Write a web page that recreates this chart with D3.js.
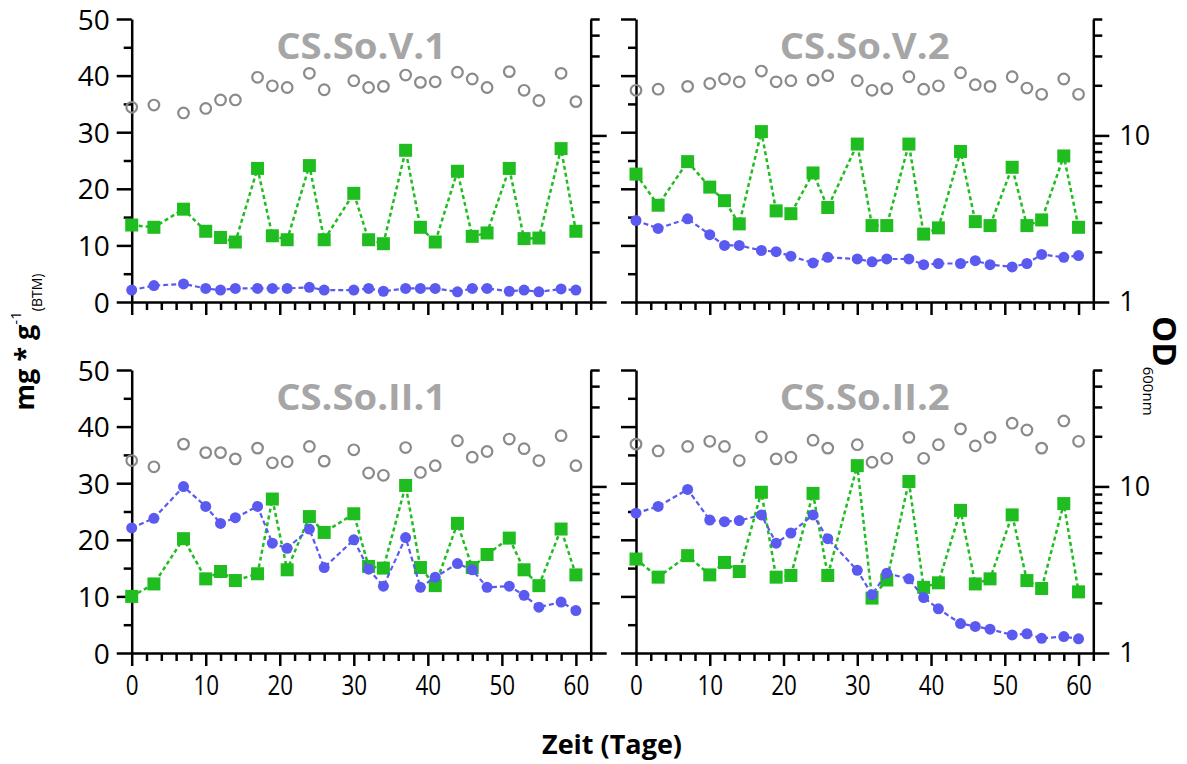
<!DOCTYPE html>
<html><head><meta charset="utf-8">
<script src="https://cdn.jsdelivr.net/npm/d3@7/dist/d3.min.js"></script>
<style>body{margin:0;background:#fff}</style>
</head><body>
<svg id="c" width="1187" height="764"></svg>
<script>
// ---------- data ----------
const days = [0,3,7,10,12,14,17,19,21,24,26,30,32,34,37,39,41,44,46,48,51,53,55,58,60];
const panelTitles = ["CS.So.V.1","CS.So.V.2","CS.So.II.1","CS.So.II.2"];
const leftTicks = [0,10,20,30,40,50];
const rightTicks = [1,10];
const xTicks = [0,10,20,30,40,50,60];
const yTitle = "mg * g";
const xTitle = "Zeit (Tage)";

const grayV1  = [34.4,34.8,33.4,34.2,35.7,35.7,39.7,38.2,37.9,40.4,37.5,39.1,37.9,38.1,40.1,38.8,38.9,40.6,39.4,37.9,40.7,37.4,35.6,40.4,35.4];
const greenV1 = [13.6,13.2,16.4,12.5,11.4,10.6,23.6,11.7,11.0,24.1,11.0,19.2,11.0,10.3,26.8,13.2,10.6,23.1,11.6,12.2,23.6,11.2,11.3,27.1,12.5];
const blueV1  = [2.1,2.9,3.2,2.4,2.1,2.4,2.4,2.4,2.4,2.6,2.1,2.1,2.4,1.9,2.4,2.4,2.4,1.8,2.4,2.4,1.9,2.1,1.8,2.3,2.1];

const grayV2  = [37.4,37.6,38.1,38.6,39.4,38.9,40.8,38.9,39.1,39.2,40.0,39.1,37.4,37.7,39.8,37.6,38.2,40.5,38.4,38.1,39.8,37.8,36.7,39.4,36.7];
const greenV2 = [22.6,17.1,24.8,20.3,17.9,13.8,30.1,16.1,15.6,22.8,16.7,27.9,13.5,13.5,27.9,12.0,13.1,26.6,14.2,13.5,23.8,13.5,14.5,25.8,13.2];
const blueV2  = [14.4,13.0,14.7,11.9,10.0,10.0,9.1,8.9,8.1,6.9,7.9,7.6,7.1,7.6,7.6,6.6,6.8,6.8,7.3,6.6,6.2,6.8,8.4,7.9,8.2];

const grayII1  = [34.0,32.9,36.9,35.4,35.4,34.3,36.2,33.6,33.8,36.5,33.9,35.9,31.8,31.4,36.3,31.9,33.1,37.5,34.6,35.6,37.8,36.1,34.0,38.4,33.1];
const greenII1 = [10.0,12.2,20.2,13.1,14.4,12.8,14.0,27.2,14.7,24.1,21.3,24.6,15.3,15.0,29.6,15.1,11.9,22.9,15.1,17.4,20.3,14.7,11.9,21.9,13.8];
const blueII1  = [22.1,23.8,29.4,25.9,22.9,23.9,25.9,19.4,18.5,21.9,15.1,20.0,14.8,11.8,20.4,11.6,13.4,15.8,14.7,11.6,11.8,10.2,8.1,9.0,7.5];

const grayII2  = [36.9,35.7,36.5,37.4,36.5,34.0,38.2,34.3,34.6,37.6,36.2,36.8,33.7,34.4,38.1,34.4,36.8,39.6,36.6,38.1,40.6,39.4,36.2,41.0,37.4];
const greenII2 = [16.6,13.4,17.2,13.8,16.0,14.4,28.4,13.4,13.7,28.2,13.7,33.1,9.7,12.9,30.3,11.6,12.4,25.2,12.2,13.1,24.4,12.8,11.4,26.4,10.8];
const blueII2  = [24.7,25.9,28.9,23.5,23.2,23.4,24.4,19.4,21.2,24.4,20.2,14.6,10.3,14.1,13.1,9.8,7.8,5.2,4.7,4.2,3.2,3.4,2.6,2.9,2.5];

// ---------- layout ----------
const FONT = "'Open Sans', 'DejaVu Sans', sans-serif";
const C_GREEN = "#1fbd1f", C_BLUE = "#5a5af0", C_GRAY = "#8a8a8a", C_TITLE = "#a6a6a6";
const panels = [
  {title: panelTitles[0], gray: grayV1,  green: greenV1,  blue: blueV1,  x0:131.7, x1:590.7,  y0:19,  y1:302, left:true,  bottom:false},
  {title: panelTitles[1], gray: grayV2,  green: greenV2,  blue: blueV2,  x0:636,   x1:1093.3, y0:19,  y1:302, left:false, bottom:false},
  {title: panelTitles[2], gray: grayII1, green: greenII1, blue: blueII1, x0:131.7, x1:590.7,  y0:370, y1:653, left:true,  bottom:true},
  {title: panelTitles[3], gray: grayII2, green: greenII2, blue: blueII2, x0:636,   x1:1093.3, y0:370, y1:653, left:false, bottom:true},
];

const svg = d3.select("#c");

function styleAxis(g, fs){
  g.selectAll("path.domain").attr("stroke","#000").attr("stroke-width",2.5);
  g.selectAll(".tick line").attr("stroke","#000").attr("stroke-width",2.5);
  g.selectAll("text").attr("fill","#000").style("font-family",FONT).style("font-size",fs+"px");
}

panels.forEach(p => {
  const x = d3.scaleLinear().domain([0,62]).range([p.x0,p.x1]);
  const y = d3.scaleLinear().domain([0,50]).range([p.y1,p.y0]);
  const yl = d3.scaleLog().domain([1,50]).range([p.y1,p.y0]);
  const g = svg.append("g");

  // left axis
  const gl = g.append("g").attr("transform",`translate(${p.x0},0)`);
  gl.call(d3.axisLeft(y).tickValues(leftTicks).tickSize(15).tickSizeOuter(0).tickPadding(7)
      .tickFormat(p.left ? d3.format("d") : ""));
  styleAxis(gl, 28);
  gl.selectAll("text").attr("dy","0.36em");
  const glm = g.append("g").attr("transform",`translate(${p.x0},0)`);
  glm.call(d3.axisLeft(y).tickValues([5,15,25,35,45]).tickSize(8).tickFormat(""));
  styleAxis(glm, 10); glm.select("path.domain").remove();

  // right log axis
  const gr = g.append("g").attr("transform",`translate(${p.x1},0)`);
  gr.call(d3.axisRight(yl).tickValues(rightTicks).tickSize(16).tickSizeOuter(0).tickPadding(10)
      .tickFormat(p.left ? "" : d3.format("d")));
  styleAxis(gr, 27);
  const grm = g.append("g").attr("transform",`translate(${p.x1},0)`);
  grm.call(d3.axisRight(yl).tickValues([2,3,4,5,6,7,8,9,20,30,40,50]).tickSize(9).tickFormat(""));
  styleAxis(grm, 10); grm.select("path.domain").remove();

  // bottom axis
  const gb = g.append("g").attr("transform",`translate(0,${p.y1})`);
  gb.call(d3.axisBottom(x).tickValues(xTicks).tickSize(13).tickSizeOuter(0).tickPadding(9)
      .tickFormat(p.bottom ? d3.format("d") : ""));
  styleAxis(gb, 28);
  gb.selectAll("text").attr("transform","scale(0.8,1)");
  const gbm = g.append("g").attr("transform",`translate(0,${p.y1})`);
  gbm.call(d3.axisBottom(x).tickValues(d3.range(2,63,2).filter(d => d%10)).tickSize(8).tickFormat(""));
  styleAxis(gbm, 10); gbm.select("path.domain").remove();

  // title
  g.append("text").attr("x",(p.x0+p.x1)/2).attr("y",p.y0+40).attr("text-anchor","middle")
    .attr("fill",C_TITLE).style("font-family",FONT).style("font-weight","bold").style("font-size","36px")
    .attr("textLength",170).attr("lengthAdjust","spacingAndGlyphs").text(p.title);

  // gray open circles
  g.append("g").selectAll("circle").data(p.gray).join("circle")
    .attr("cx",(d,i)=>x(days[i])).attr("cy",d=>y(d)).attr("r",5.3)
    .attr("fill","none").attr("stroke",C_GRAY).attr("stroke-width",2.2);

  // green line + squares
  const line = d3.line().x((d,i)=>x(days[i])).y(d=>y(d));
  g.append("path").datum(p.green).attr("d",line).attr("fill","none")
    .attr("stroke",C_GREEN).attr("stroke-width",2.5).attr("stroke-dasharray","4 3");
  g.append("g").selectAll("rect").data(p.green).join("rect")
    .attr("x",(d,i)=>x(days[i])-6.5).attr("y",d=>y(d)-6.5).attr("width",13).attr("height",13)
    .attr("fill",C_GREEN);

  // blue line + circles
  g.append("path").datum(p.blue).attr("d",line).attr("fill","none")
    .attr("stroke",C_BLUE).attr("stroke-width",2.2).attr("stroke-dasharray","5 3");
  g.append("g").selectAll("circle").data(p.blue).join("circle")
    .attr("cx",(d,i)=>x(days[i])).attr("cy",d=>y(d)).attr("r",5.5).attr("fill",C_BLUE);
});

// y title
const yt = svg.append("text").attr("transform","translate(34,342) rotate(-90)")
  .attr("text-anchor","middle").style("font-family",FONT).attr("fill","#000");
yt.append("tspan").style("font-weight","bold").style("font-size","27px").text(yTitle);
yt.append("tspan").style("font-size","15px").attr("dy",-13).text("-1");
yt.append("tspan").style("font-size","14px").attr("dy",21).text("(BTM)");

// right title
const rt = svg.append("text").attr("transform","translate(1153,316) rotate(90)")
  .attr("text-anchor","start").style("font-family",FONT).attr("fill","#000");
rt.append("tspan").style("font-weight","bold").style("font-size","33px").text("OD");
rt.append("tspan").style("font-size","15px").attr("dy",10).text("600nm");

// x title
svg.append("text").attr("x",612).attr("y",754).attr("text-anchor","middle")
  .style("font-family",FONT).style("font-weight","bold").style("font-size","27px")
  .attr("textLength",140).attr("lengthAdjust","spacingAndGlyphs").text(xTitle);
</script>
</body></html>
